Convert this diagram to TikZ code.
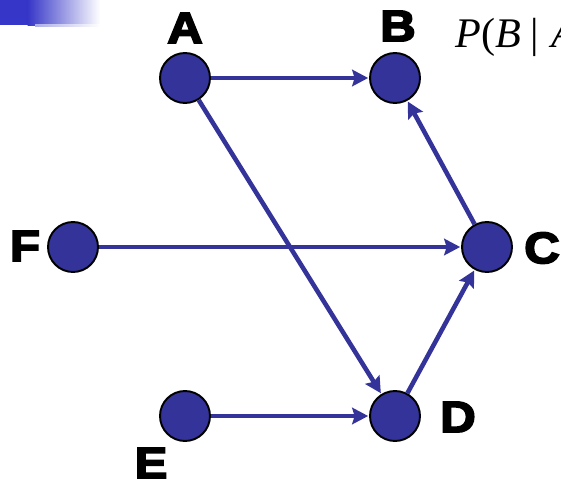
\documentclass[tikz,border=0pt]{standalone}
\usepackage{fontspec}
\setmainfont{Liberation Serif}
\newfontfamily\labelfont[FakeBold=4, FakeStretch=1.12]{Liberation Sans Bold}
\usetikzlibrary{arrows.meta}
\definecolor{nodeblue}{RGB}{51,51,153}
\definecolor{barblue}{RGB}{54,54,200}
\tikzset{
  x=0.02cm, y=-0.02cm,
  var/.style={circle, draw=black, line width=1.1pt, fill=nodeblue,
    minimum size=1cm, inner sep=0pt},
  lbl/.style={font=\labelfont\fontsize{25}{25}\selectfont, inner sep=0pt},
  edge/.style={draw=nodeblue, line width=2.6pt,
    -{Stealth[length=0.32cm, width=0.33cm, inset=0.05cm]}, shorten >=0.5pt}
}
\begin{document}
\begin{tikzpicture}
\useasboundingbox (0,0) rectangle (561,490);
% title bar decoration
\fill[barblue] (0,0) rectangle (28,25);
\shade[left color=barblue, right color=white] (27.5,0) rectangle (100,25);
\shade[left color=barblue!40, right color=white] (35,24) rectangle (100,26);

% variables
\node[var] (A) at (185,78) {};
\node[var] (B) at (395,78) {};
\node[var] (C) at (487,247) {};
\node[var] (F) at (73,247) {};
\node[var] (D) at (395,416) {};
\node[var] (E) at (185,416) {};

% labels
\node[lbl] (lA) at (185,28) {A};
\node[lbl] (lB) at (398,26) {B};
\node[lbl] (lC) at (542,248) {C};
\node[lbl] (lF) at (25,246) {F};
\node[lbl] (lD) at (458,417) {D};
\node[lbl] (lE) at (151,463) {E};

% conditional probability
\node[anchor=base west, inner sep=0pt, font=\fontsize{24}{24}\selectfont] (P) at (455,47)
  {\textit{P}(\textit{B}\hspace{0.22em}|\hspace{0.3em}\textit{A})};

% dependencies
\draw[edge] (A) -- (B);
\draw[edge] (A) -- (D);
\draw[edge] (F) -- (C);
\draw[edge] (C) -- (B);
\draw[edge] (D) -- (C);
\draw[edge] (E) -- (D);
\end{tikzpicture}
\end{document}
